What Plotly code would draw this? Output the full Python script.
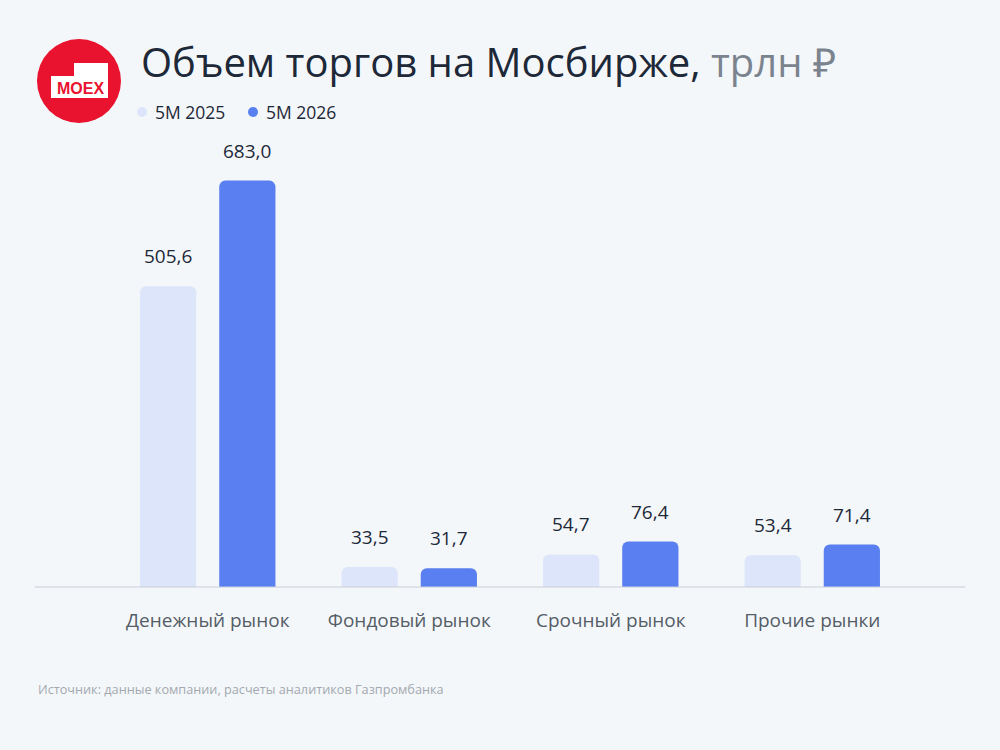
import plotly.graph_objects as go

categories = ["Денежный рынок", "Фондовый рынок", "Срочный рынок", "Прочие рынки"]
series_names = ["5M 2025", "5M 2026"]
values_2025 = [505.6, 33.5, 54.7, 53.4]
values_2026 = [683.0, 31.7, 76.4, 71.4]
labels_2025 = ["505,6", "33,5", "54,7", "53,4"]
labels_2026 = ["683,0", "31,7", "76,4", "71,4"]

C_LIGHT = "#dde5fb"
C_DARK = "#5a7ff0"
BG = "#f4f7fa"
TXT = "#1d2838"
FONT = "Open Sans"

W, H = 1000, 750
L, R, T, B = 107, 87, 111, 163
pw, ph = W - L - R, H - T - B


def px(x):
    return (x - L) / pw


def py(y):
    return (H - B - y) / ph


fig = go.Figure()
fig.add_trace(go.Bar(x=categories, y=values_2025, name=series_names[0],
                     marker=dict(color=C_LIGHT, line=dict(width=0)), showlegend=False))
fig.add_trace(go.Bar(x=categories, y=values_2026, name=series_names[1],
                     marker=dict(color=C_DARK, line=dict(width=0)), showlegend=False))

annotations = []
slot = 39.5
for cat, v, t in zip(categories, values_2025, labels_2025):
    annotations.append(dict(x=cat, y=v, xref="x", yref="y", text=t, showarrow=False,
                            xshift=-slot, yshift=15, yanchor="bottom",
                            font=dict(size=19, color=TXT, family=FONT)))
for cat, v, t in zip(categories, values_2026, labels_2026):
    annotations.append(dict(x=cat, y=v, xref="x", yref="y", text=t, showarrow=False,
                            xshift=slot, yshift=15, yanchor="bottom",
                            font=dict(size=19, color=TXT, family=FONT)))

# Title
annotations.append(dict(xref="paper", yref="paper", x=px(139), y=py(62), xanchor="left", yanchor="middle",
                        text="Объем торгов на Мосбирже, <span style='color:#7b848e'>трлн ₽</span>",
                        showarrow=False, font=dict(size=40, color=TXT, family=FONT)))
# Legend
leg = [(142, series_names[0], C_LIGHT), (253, series_names[1], C_DARK)]
shapes = []
for x0, name, col in leg:
    shapes.append(dict(type="circle", xref="paper", yref="paper",
                       x0=px(x0 - 5), x1=px(x0 + 5), y0=py(117), y1=py(107),
                       fillcolor=col, line=dict(width=0)))
    annotations.append(dict(xref="paper", yref="paper", x=px(x0 + 11), y=py(112), xanchor="left",
                            yanchor="middle", text=name, showarrow=False,
                            font=dict(size=17.5, color=TXT, family=FONT)))
# Source
annotations.append(dict(xref="paper", yref="paper", x=px(36), y=py(689), xanchor="left", yanchor="middle",
                        text="Источник: данные компании, расчеты аналитиков Газпромбанка",
                        showarrow=False, font=dict(size=12.7, color="#a3a9b0", family=FONT)))
# MOEX logo
shapes.append(dict(type="circle", xref="paper", yref="paper",
                   x0=px(37), x1=px(121), y0=py(123), y1=py(39),
                   fillcolor="#e9132f", line=dict(width=0)))
path_pts = [(74, 63), (108, 63), (108, 98), (51, 98), (51, 76), (74, 76)]
path = "M " + " L ".join(f"{px(a)},{py(b)}" for a, b in path_pts) + " Z"
shapes.append(dict(type="path", xref="paper", yref="paper", path=path,
                   fillcolor="white", line=dict(width=0)))
annotations.append(dict(xref="paper", yref="paper", x=px(80.5), y=py(88.5), xanchor="center", yanchor="middle",
                        text="<b>MOEX</b>", showarrow=False,
                        font=dict(size=16, color="#e9132f", family="Liberation Sans")))
# Baseline
shapes.append(dict(type="line", xref="paper", yref="paper", x0=px(35), x1=px(965), y0=0, y1=0,
                   line=dict(color="#c9ced6", width=1.2)))

fig.update_layout(
    width=W, height=H,
    margin=dict(l=L, r=R, t=T, b=B),
    paper_bgcolor=BG, plot_bgcolor=BG,
    barmode="group", bargap=0.214, bargroupgap=0.29, barcornerradius=6,
    annotations=annotations, shapes=shapes,
    xaxis=dict(showgrid=False, showline=False, zeroline=False, ticks="",
               tickfont=dict(size=19, color="#555d67", family=FONT), ticklabelstandoff=20),
    yaxis=dict(range=[0, 800], visible=False),
    showlegend=False,
)

fig.write_html("out.html")
